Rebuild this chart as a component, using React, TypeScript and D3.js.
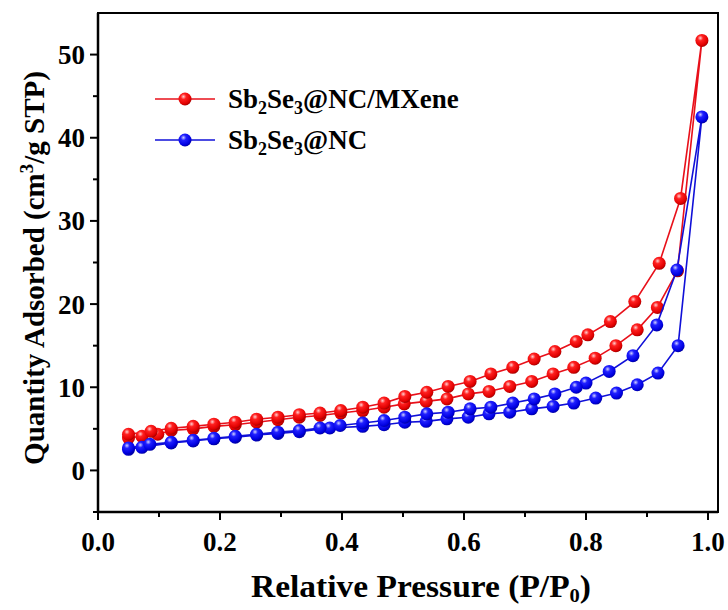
import React from "react";
import * as d3 from "d3";

// MXene sample: adsorption (ascending) and desorption (descending)
const mxAdsX = [0.05, 0.072, 0.098, 0.12, 0.156, 0.19, 0.225, 0.26, 0.295, 0.33, 0.364, 0.398, 0.434, 0.469, 0.502, 0.538, 0.572, 0.607, 0.641, 0.675, 0.711, 0.746, 0.78, 0.815, 0.849, 0.884, 0.917, 0.95, 0.99];
const mxAdsY = [3.9, 4.1, 4.35, 4.8, 5.0, 5.3, 5.5, 5.8, 6.1, 6.4, 6.6, 6.9, 7.2, 7.6, 8.0, 8.3, 8.6, 9.2, 9.5, 10.1, 10.7, 11.6, 12.4, 13.5, 15.0, 16.9, 19.6, 24.0, 51.7];
const mxDesX = [0.955, 0.92, 0.88, 0.84, 0.803, 0.784, 0.749, 0.715, 0.68, 0.644, 0.61, 0.574, 0.539, 0.503, 0.469, 0.434, 0.398, 0.364, 0.33, 0.295, 0.26, 0.225, 0.19, 0.156, 0.12, 0.087, 0.05];
const mxDesY = [32.7, 24.9, 20.3, 17.9, 16.3, 15.5, 14.3, 13.4, 12.4, 11.6, 10.7, 10.1, 9.4, 8.9, 8.1, 7.6, 7.2, 6.9, 6.7, 6.4, 6.16, 5.8, 5.56, 5.3, 5.07, 4.7, 4.35];

// NC sample
const ncAdsX = [0.05, 0.072, 0.12, 0.156, 0.19, 0.225, 0.26, 0.295, 0.33, 0.38, 0.434, 0.469, 0.503, 0.538, 0.572, 0.607, 0.641, 0.675, 0.711, 0.746, 0.78, 0.816, 0.85, 0.884, 0.918, 0.951, 0.99];
const ncAdsY = [2.54, 2.78, 3.3, 3.55, 3.8, 4.0, 4.25, 4.45, 4.65, 5.1, 5.3, 5.5, 5.8, 5.9, 6.2, 6.4, 6.8, 7.0, 7.4, 7.7, 8.1, 8.7, 9.3, 10.3, 11.7, 15.0, 42.5];
const ncDesX = [0.949, 0.916, 0.877, 0.838, 0.8, 0.784, 0.749, 0.715, 0.68, 0.644, 0.61, 0.574, 0.539, 0.503, 0.469, 0.434, 0.397, 0.364, 0.33, 0.295, 0.26, 0.225, 0.19, 0.156, 0.12, 0.085, 0.05];
const ncDesY = [24.1, 17.5, 13.8, 11.9, 10.5, 10.0, 9.2, 8.6, 8.1, 7.6, 7.4, 7.0, 6.8, 6.4, 6.0, 5.7, 5.4, 5.1, 4.8, 4.6, 4.35, 4.1, 3.86, 3.62, 3.38, 3.14, 2.7];

const xTicks = [0.0, 0.2, 0.4, 0.6, 0.8, 1.0];
const xMinor = [0.1, 0.3, 0.5, 0.7, 0.9];
const yTicks = [0, 10, 20, 30, 40, 50];
const yMinor = [-5, 5, 15, 25, 35, 45];

const seriesNames = ["MXene", "NC"];

const W = 728, H = 610;
const L = 98, R = 718, T = 13, B = 512;
const FONT = "'Liberation Serif', 'Times New Roman', serif";

type P = [number, number];
const zip = (xs: number[], ys: number[]): P[] => xs.map((x, i) => [x, ys[i]]);

export default function App() {
  const x = d3.scaleLinear().domain([0, 1.0164]).range([L, R]);
  const y = d3.scaleLinear().domain([-5, 55]).range([B, T]);
  const line = d3.line<P>().x((d) => x(d[0])).y((d) => y(d[1]));

  const series = [
    { key: seriesNames[0], color: "#ff0000", lineColor: "#e8101a", grad: "gRed", pts: [...zip(mxAdsX, mxAdsY), ...zip(mxDesX, mxDesY)] },
    { key: seriesNames[1], color: "#0000ff", lineColor: "#1010d8", grad: "gBlue", pts: [...zip(ncAdsX, ncAdsY), ...zip(ncDesX, ncDesY)] },
  ];
  const r = 6.5;

  return (
    <svg width={W} height={H} style={{ position: "absolute", left: 0, top: 0, background: "#fff" }} fontFamily={FONT}>
      <defs>
        <radialGradient id="gRed" cx="0.38" cy="0.32" r="0.7">
          <stop offset="0" stopColor="#ffd0d0" />
          <stop offset="0.3" stopColor="#ff2020" />
          <stop offset="0.8" stopColor="#e00000" />
          <stop offset="1" stopColor="#a00000" />
        </radialGradient>
        <radialGradient id="gBlue" cx="0.38" cy="0.32" r="0.7">
          <stop offset="0" stopColor="#d0d0ff" />
          <stop offset="0.3" stopColor="#2020ff" />
          <stop offset="0.8" stopColor="#0000e0" />
          <stop offset="1" stopColor="#0000a0" />
        </radialGradient>
      </defs>

      {series.map((s) => (
        <g key={s.key}>
          <path d={line(s.pts) || ""} fill="none" stroke={s.lineColor} strokeWidth={1.6} />
          {s.pts.map((p, i) => (
            <circle key={i} cx={x(p[0])} cy={y(p[1])} r={r} fill={`url(#${s.grad})`} />
          ))}
        </g>
      ))}

      {/* frame */}
      <rect x={L} y={T} width={R - L} height={B - T} fill="none" stroke="#000" strokeWidth={2} />
      <line x1={L} x2={R} y1={B} y2={B} stroke="#000" strokeWidth={2.5} />
      <line x1={L} x2={L} y1={T} y2={B} stroke="#000" strokeWidth={2.5} />

      {/* x ticks */}
      {xTicks.map((t) => (
        <g key={"xt" + t}>
          <line x1={x(t)} x2={x(t)} y1={B} y2={B + 8} stroke="#000" strokeWidth={2} />
          <text x={x(t)} y={551} textAnchor="middle" fontSize={27} fontWeight="bold">{t.toFixed(1)}</text>
        </g>
      ))}
      {xMinor.map((t) => (
        <line key={"xm" + t} x1={x(t)} x2={x(t)} y1={B} y2={B + 5} stroke="#000" strokeWidth={2} />
      ))}

      {/* y ticks */}
      {yTicks.map((t) => (
        <g key={"yt" + t}>
          <line x1={L - 8} x2={L} y1={y(t)} y2={y(t)} stroke="#000" strokeWidth={2} />
          <text x={85} y={y(t) + 9.5} textAnchor="end" fontSize={27} fontWeight="bold">{t}</text>
        </g>
      ))}
      {yMinor.map((t) => (
        <line key={"ym" + t} x1={L - 5} x2={L} y1={y(t)} y2={y(t)} stroke="#000" strokeWidth={2} />
      ))}

      {/* axis titles */}
      <text x={421} y={597} textAnchor="middle" fontSize={31} fontWeight="bold" textLength={340} lengthAdjust="spacingAndGlyphs">
        Relative Pressure (P/P<tspan fontSize={19} dy={5}>0</tspan><tspan dy={-5}>)</tspan>
      </text>
      <text transform="translate(44,268) rotate(-90)" textAnchor="middle" fontSize={29} fontWeight="bold">
        Quantity Adsorbed (cm<tspan fontSize={19} dy={-11}>3</tspan><tspan dy={11}>/g STP)</tspan>
      </text>

      {/* legend */}
      {series.map((s, i) => {
        const ly = 99 + i * 41;
        return (
          <g key={"lg" + s.key}>
            <line x1={155} x2={215} y1={ly} y2={ly} stroke={s.lineColor} strokeWidth={1.6} />
            <circle cx={185} cy={ly} r={r} fill={`url(#${s.grad})`} />
            <text x={228} y={ly + 9} fontSize={27} fontWeight="bold">
              Sb<tspan fontSize={18} dy={6}>2</tspan><tspan dy={-6}>Se</tspan><tspan fontSize={18} dy={6}>3</tspan>
              <tspan dy={-6}>{i === 0 ? "@NC/MXene" : "@NC"}</tspan>
            </text>
          </g>
        );
      })}
    </svg>
  );
}
